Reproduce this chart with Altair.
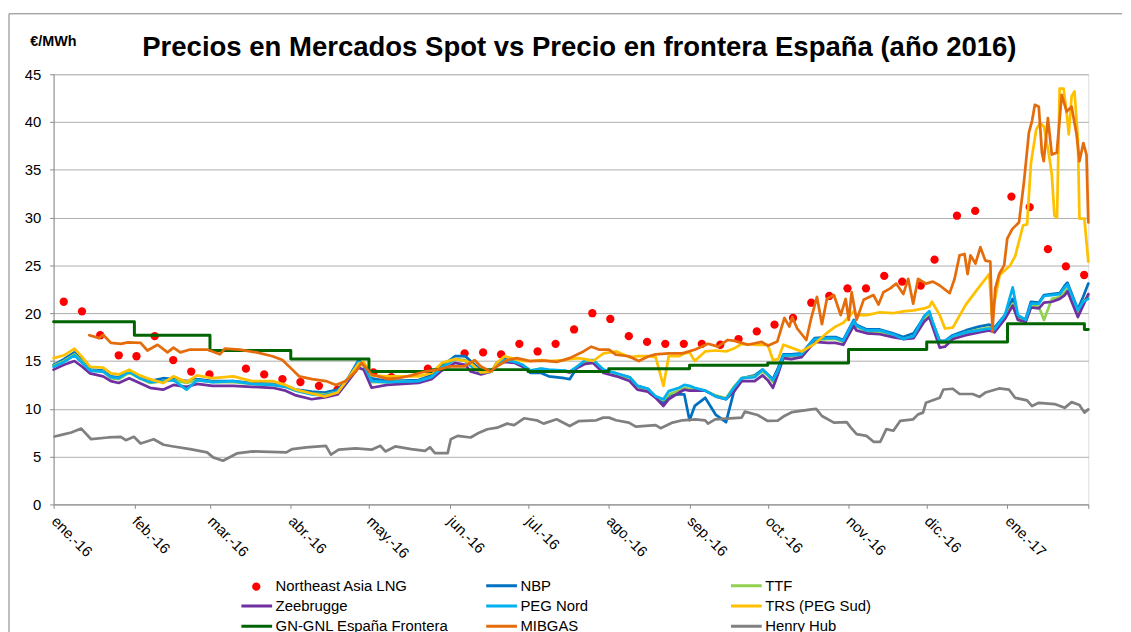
import json
import altair as alt
import pandas as pd

TITLE = "Precios en Mercados Spot vs Precio en frontera España (año 2016)"
UNIT = "€/MWh"
SERIES = ["Northeast Asia LNG", "NBP", "TTF", "Zeebrugge", "PEG Nord", "TRS (PEG Sud)",
          "GN-GNL España Frontera", "MIBGAS", "Henry Hub"]
COLORS = ["#FF0000", "#0070C0", "#92D050", "#7030A0", "#00B0F0", "#FFC000",
          "#006400", "#E46C0A", "#808080"]
TICK_LABELS = ["ene.-16", "feb.-16", "mar.-16", "abr.-16", "may.-16", "jun.-16", "jul.-16",
               "ago.-16", "sep.-16", "oct.-16", "nov.-16", "dic.-16", "ene.-17", ""]

# days since 2016-01-01
CL_DAYS = [0, 4, 8, 11, 14, 19, 22, 25, 29, 33, 37, 42, 46, 51, 55, 61, 69, 76, 84, 89,
           93, 99, 104, 109, 113, 117, 119, 122, 128, 140, 145, 149, 154, 158, 160, 164, 168, 170, 173, 177,
           180, 183, 187, 190, 196, 198, 201, 204, 207, 211, 216, 221, 224, 228, 231, 234, 236, 240, 242, 244,
           246, 250, 254, 258, 261, 264, 269, 272, 274, 276, 278, 280, 283, 287, 292, 297, 300, 303, 307, 308,
           312, 317, 322, 326, 330, 334, 336, 337, 340, 342, 345, 350, 355, 359, 361, 365, 368, 370, 373, 375,
           378, 380, 383, 386, 388, 389, 393, 395, 397]
NBP = [14.6, 15.2, 15.9, 15.0, 14.1, 14.0, 13.4, 13.3, 14.0, 13.3, 12.9, 13.2, 13.1, 12.9, 13.1, 12.9, 12.9, 12.7, 12.6, 12.4,
       12.0, 11.8, 11.7, 12.0, 13.2, 15.1, 14.6, 13.2, 12.9, 13.0, 13.5, 14.5, 15.5, 15.5, 15.0, 14.0, 13.9, 14.8, 15.2, 14.9,
       14.5, 13.75, 13.75, 13.4, 13.2, 13.1, 14.4, 14.8, 15.0, 14.0, 13.7, 13.3, 12.4, 12.1, 11.2, 10.6, 11.4, 11.5, 11.5, 8.8,
       10.3, 11.15, 9.4, 8.6, 11.8, 13.2, 13.5, 14.1, 13.6, 13.1, 14.3, 15.7, 15.7, 15.8, 17.4, 17.5, 17.5, 17.2, 19.3, 18.8,
       18.3, 18.3, 17.9, 17.5, 17.9, 19.6, 20.1, 19.2, 17.1, 17.1, 17.7, 18.2, 18.6, 18.8, 18.5, 19.8, 21.5, 19.6, 19.4, 21.2,
       21.1, 21.9, 22.0, 22.1, 22.9, 23.2, 20.4, 21.7, 23.1]
TTF = [14.5, 15.0, 15.7, 14.9, 14.0, 13.9, 13.2, 13.1, 13.8, 13.2, 12.7, 12.9, 13.0, 12.7, 13.0, 12.8, 12.8, 12.6, 12.5, 12.3,
       11.9, 11.6, 11.5, 11.8, 13.1, 14.8, 14.5, 12.8, 12.8, 12.9, 13.3, 14.3, 15.2, 15.1, 14.6, 13.8, 13.9, 14.7, 15.0, 14.9,
       14.5, 14.0, 14.2, 14.0, 14.0, 13.8, 14.4, 14.9, 15.0, 14.0, 13.6, 13.2, 12.3, 12.0, 11.3, 10.9, 11.5, 11.9, 12.2, 12.1,
       12.0, 11.9, 11.4, 11.1, 12.3, 13.2, 13.4, 13.9, 13.5, 12.8, 14.0, 15.4, 15.5, 15.6, 17.2, 17.3, 17.3, 17.0, 19.1, 18.6,
       18.1, 18.0, 17.7, 17.3, 17.6, 19.4, 19.9, 19.0, 16.9, 16.9, 17.5, 18.0, 18.3, 18.5, 18.3, 19.5, 21.0, 19.4, 19.2, 20.8,
       20.7, 19.3, 21.5, 21.7, 22.2, 22.6, 20.0, 21.2, 21.8]
ZEEBRUGGE = [14.1, 14.6, 15.0, 14.4, 13.7, 13.4, 12.9, 12.7, 13.2, 12.7, 12.2, 12.0, 12.5, 12.3, 12.6, 12.4, 12.4, 12.3, 12.2, 11.9,
             11.4, 11.0, 11.2, 11.5, 12.9, 14.3, 14.1, 12.2, 12.5, 12.7, 13.1, 14.0, 14.8, 14.6, 13.9, 13.6, 13.9, 14.6, 14.9, 14.8,
             14.4, 13.9, 14.1, 13.9, 13.9, 13.8, 14.3, 14.7, 14.8, 13.75, 13.4, 12.9, 12.0, 11.8, 11.15, 10.3, 11.0, 11.7, 12.0, 11.9,
             11.9, 11.9, 11.3, 11.0, 11.8, 12.9, 12.9, 13.5, 13.0, 12.2, 13.7, 15.3, 15.2, 15.4, 17.0, 16.9, 16.9, 16.7, 18.7, 18.2,
             17.9, 17.8, 17.5, 17.3, 17.4, 19.1, 19.6, 18.8, 16.4, 16.5, 17.3, 17.7, 18.0, 18.2, 18.0, 19.4, 20.8, 19.3, 19.1, 20.6,
             20.5, 21.1, 21.2, 21.5, 21.9, 22.3, 19.6, 20.8, 22.0]
PEG_NORD = [14.4, 14.9, 15.6, 14.8, 14.0, 13.9, 13.3, 13.2, 13.9, 13.2, 12.8, 12.9, 13.0, 12.0, 13.0, 12.8, 12.9, 12.6, 12.5, 12.3,
            11.9, 11.5, 11.4, 11.8, 13.1, 14.9, 14.6, 12.9, 12.8, 12.9, 13.3, 14.3, 15.2, 15.0, 14.5, 13.8, 13.9, 14.7, 15.1, 14.9,
            14.6, 14.0, 14.2, 14.1, 14.0, 13.9, 14.45, 15.1, 15.1, 14.1, 13.7, 13.3, 12.4, 12.1, 11.3, 11.0, 11.85, 12.2, 12.5, 12.4,
            12.2, 11.9, 11.3, 11.0, 12.2, 13.2, 13.3, 14.1, 13.6, 13.0, 14.0, 15.6, 15.6, 15.7, 17.3, 17.4, 17.4, 17.1, 19.2, 18.7,
            18.2, 18.2, 17.8, 17.3, 17.6, 19.7, 20.2, 19.3, 17.0, 17.1, 17.6, 18.0, 18.2, 18.4, 18.3, 19.8, 22.7, 19.8, 19.3, 21.0,
            21.0, 21.8, 21.9, 22.0, 22.7, 23.0, 20.3, 21.2, 21.5]

TRS_DAYS = [0, 4, 8, 11, 14, 19, 22, 25, 29, 33, 37, 42, 46, 51, 55, 61, 69, 76, 84, 89,
            93, 99, 104, 109, 113, 117, 119, 122, 128, 140, 145, 149, 154, 158, 160, 164, 168, 170, 173, 177,
            180, 183, 187, 190, 196, 198, 201, 204, 207, 211, 216, 221, 224, 228, 231, 234, 236, 240, 242, 244,
            246, 250, 254, 258, 261, 264, 269, 272, 274, 276, 278, 280, 283, 287, 292, 297, 300, 303, 307, 308,
            312, 317, 322, 326, 330, 334, 336, 337, 340, 342, 345, 350, 355, 359, 360, 363, 367, 369, 370, 372,
            373.5, 375, 377, 378.5, 380, 382, 383, 384, 385, 386, 387.5, 388.7, 389.5, 390.6, 391.7, 393, 393.6, 395.5, 397]
TRS = [15.3, 15.6, 16.3, 15.4, 14.4, 14.3, 13.7, 13.6, 14.1, 13.5, 13.1, 12.7, 13.4, 12.8, 13.5, 13.2, 13.4, 12.9, 12.9, 12.5,
       12.0, 11.6, 11.3, 11.7, 13.2, 14.7, 14.9, 13.5, 13.4, 13.4, 13.75, 14.8, 15.2, 15.0, 14.8, 13.8, 13.9, 14.8, 15.5, 15.2,
       15.0, 15.0, 15.1, 15.0, 15.1, 15.2, 15.3, 15.2, 15.0, 15.8, 16.0, 15.4, 15.5, 15.5, 15.4, 12.4, 15.5, 15.5, 15.8, 15.9,
       15.0, 16.0, 16.1, 16.0, 16.3, 16.8, 16.7, 16.7, 16.7, 15.1, 15.2, 16.7, 16.4, 16.0, 16.8, 18.0, 18.6, 19.0, 20.2, 19.8,
       19.8, 20.1, 20.0, 20.2, 20.3, 20.5, 20.7, 21.2, 19.8, 18.4, 18.5, 20.9, 22.7, 24.1, 19.8, 24.0, 25.0, 26.0, 27.1, 29.2,
       29.3, 35.7, 39.2, 39.9, 39.5, 36.4, 34.5, 30.2, 30.0, 43.5, 43.5, 40.9, 38.7, 42.7, 43.2, 38.2, 29.9, 29.9, 25.4]

GN_DAYS = [0, 31, 60, 91, 121, 145, 182, 213, 244, 274, 305, 335, 366, 395.5, 397]
GN_GNL = [19.1, 17.7, 16.1, 15.2, 13.9, 14.1, 13.9, 14.2, 14.55, 14.8, 16.2, 17.0, 18.9, 18.3, 18.3]

MIB_DAYS = [13.7, 17.5, 19, 22, 25.8, 28.5, 33.4, 36, 39.9, 43.7, 46, 48.6, 52.4, 58.9, 63.8, 65.7, 71.4, 77.9, 84, 87.8,
            91.6, 94.2, 99.2, 104.5, 108.3, 112.1, 115.9, 118.2, 122, 128.4, 132.2, 137.2, 142.5, 147.4, 152.4, 157.7, 161.5, 163.8, 167.6, 170.2,
            174, 177.8, 182.8, 188.1, 193, 198, 203.3, 206.3, 209.3, 213.1, 215.7, 220.7, 224.5, 228.3, 231, 236, 241.3, 246.2, 251.1, 254.9,
            258.7, 261.4, 264, 266.3, 271.7, 274, 277.7, 280.4, 282.3, 283.4, 285.3, 288.8, 290.7, 292.9, 294.8, 296.7, 299.4, 302, 303.9, 305.1,
            306.2, 308.1, 310.8, 314.6, 316.5, 318.4, 321, 323.3, 326, 327.9, 329.8, 331.7, 334.7, 337.4, 340, 343.8, 345.7, 347.6, 349.5, 350.7,
            351.8, 353.7, 355.6, 357.5, 359.4, 360.2, 361.3, 362.8, 364.7, 365.9, 367.8, 370.4, 372.3, 374.2, 375.4, 376.5, 378, 379.2, 379.9, 381.5,
            383, 384.9, 386.8, 388.7, 390.6, 392.5, 393.6, 395.1, 396.3, 397]
MIBGAS = [17.7, 17.4, 17.75, 16.9, 16.8, 16.95, 16.9, 16.1, 16.7, 15.9, 16.4, 15.9, 16.2, 16.2, 15.7, 16.3, 16.2, 15.9, 15.5, 15.1,
          14.1, 13.4, 13.1, 12.9, 12.5, 12.9, 13.9, 14.8, 13.6, 13.1, 13.2, 13.5, 13.9, 14.1, 14.45, 14.45, 15.1, 14.45, 13.9, 14.45,
          15.1, 15.3, 15.0, 15.05, 14.9, 15.3, 16.0, 16.5, 16.2, 16.2, 15.66, 15.5, 15.0, 15.5, 15.7, 15.8, 15.8, 16.2, 16.8, 16.5,
          17.2, 17.1, 16.9, 16.7, 17.0, 16.6, 17.05, 19.5, 18.6, 19.6, 18.4, 17.2, 19.5, 21.7, 18.85, 21.5, 21.9, 19.8, 21.5, 19.3,
          22.2, 19.3, 21.4, 21.9, 20.9, 22.2, 22.6, 23.1, 22.0, 23.6, 21.0, 23.6, 23.1, 23.3, 22.9, 22.1, 23.6, 26.05, 26.2, 24.1,
          26.05, 25.2, 26.9, 25.5, 25.4, 18.1, 22.6, 24.1, 25.0, 27.8, 28.8, 29.5, 33.7, 38.9, 40.1, 41.8, 41.6, 36.8, 35.9, 40.4,
          36.6, 36.8, 42.85, 41.1, 41.6, 38.7, 35.9, 37.8, 36.6, 29.5]

HH_DAYS = [0.4, 3, 6.8, 10.6, 14.4, 20.9, 25.8, 27.7, 30.8, 33.4, 38.4, 42.2, 46, 52.4, 58.9, 61.2, 65, 70.3, 76.4, 89.3,
           91.6, 96.9, 104.5, 106.4, 109.4, 115.9, 122, 125.4, 127.3, 131.1, 137.2, 142.5, 144.4, 146.3, 151.2, 152.4, 155, 160, 162.6, 166.4,
           170.2, 174, 176.7, 180.5, 185.4, 188, 193, 198, 201.4, 208.2, 210.9, 213.1, 215.8, 220.7, 223.4, 231, 232.9, 237.5, 241.3, 246.2,
           250, 251.1, 253.8, 264, 265.2, 270.1, 274, 277.7, 280.4, 283.4, 290.7, 292.6, 294.8, 299.4, 304.3, 305.9, 308.1, 311.9, 314.6, 317.2,
           319.5, 322.2, 324.8, 329.8, 331.7, 333.6, 334.7, 340, 341.4, 345, 347.6, 352.6, 355.2, 357.5, 362.8, 366.6, 368.9, 373.5, 375.4, 378,
           384.1, 387.9, 390.6, 393.6, 395.5, 397]
HENRY_HUB = [7.1, 7.27, 7.52, 7.93, 6.82, 7.0, 7.07, 6.72, 7.07, 6.37, 6.82, 6.24, 6.06, 5.79, 5.44, 4.92, 4.57, 5.33, 5.54, 5.44,
             5.79, 5.96, 6.13, 5.2, 5.72, 5.85, 5.72, 6.13, 5.54, 6.06, 5.79, 5.6, 5.98, 5.36, 5.36, 6.82, 7.17, 7.0, 7.41, 7.86,
             8.03, 8.45, 8.3, 9.01, 8.8, 8.45, 8.9, 8.2, 8.7, 8.8, 9.08, 9.08, 8.8, 8.56, 8.14, 8.3, 7.97, 8.56, 8.8, 8.9,
             8.8, 8.45, 8.9, 9.08, 9.7, 9.35, 8.73, 8.75, 9.25, 9.66, 9.94, 10.0, 9.25, 8.56, 8.6, 8.04, 7.35, 7.17, 6.55, 6.55,
             7.87, 7.7, 8.73, 8.9, 9.42, 9.6, 10.63, 11.15, 12.02, 12.1, 11.55, 11.55, 11.25, 11.7, 12.13, 12.0, 11.15, 10.88, 10.29, 10.63,
             10.5, 10.1, 10.7, 10.4, 9.6, 9.94]

LNG_DAYS = [3.9, 10.9, 17.9, 25, 31.8, 38.8, 45.9, 52.8, 59.8, 73.8, 80.8, 87.8, 94.7, 101.8, 108.9, 122.7, 129.6, 143.6, 157.7, 164.8,
            171.7, 178.7, 185.7, 192.6, 199.7, 206.7, 213.6, 220.7, 227.7, 234.7, 241.8, 248.7, 255.8, 262.8, 269.8, 276.6, 283.7, 290.7, 297.6, 304.6,
            311.7, 318.7, 325.6, 332.7, 338, 346.6, 353.6, 367.5, 374.5, 381.5, 388.4, 395.4]
LNG = [21.2, 20.2, 17.7, 15.6, 15.5, 17.6, 15.1, 13.9, 13.6, 14.2, 13.6, 13.1, 12.8, 12.4, 12.0, 13.8, 13.3, 14.2, 15.8, 15.9,
       15.7, 16.8, 16.0, 16.8, 18.3, 20.0, 19.4, 17.6, 17.0, 16.8, 16.8, 16.8, 16.7, 17.3, 18.1, 18.8, 19.5, 21.1, 21.8, 22.6,
       22.6, 23.9, 23.3, 22.9, 25.6, 30.2, 30.7, 32.2, 31.1, 26.7, 24.9, 24.0]

START = pd.Timestamp("2016-01-01")


def frame(name, days, vals):
    return pd.DataFrame({
        "series": name,
        "date": [START + pd.Timedelta(days=float(d)) for d in days],
        "value": vals,
    })


FONT = "Liberation Sans"

lines_spec = [
    ("NBP", CL_DAYS, NBP, 2.75, "linear"),
    ("TTF", CL_DAYS, TTF, 2.75, "linear"),
    ("Zeebrugge", CL_DAYS, ZEEBRUGGE, 2.75, "linear"),
    ("PEG Nord", CL_DAYS, PEG_NORD, 2.75, "linear"),
    ("TRS (PEG Sud)", TRS_DAYS, TRS, 2.75, "linear"),
    ("GN-GNL España Frontera", GN_DAYS, GN_GNL, 3, "step-after"),
    ("MIBGAS", MIB_DAYS, MIBGAS, 2.75, "linear"),
    ("Henry Hub", HH_DAYS, HENRY_HUB, 2.75, "linear"),
]

# legend fills column by column: reorder so rows read like the reference
LEGEND_ORDER = [SERIES[i] for i in (0, 3, 6, 1, 4, 7, 2, 5, 8)]
LEGEND_COLORS = ["transparent" if s == SERIES[0] else COLORS[SERIES.index(s)] for s in LEGEND_ORDER]

label_expr = json.dumps(TICK_LABELS) + "[(year(datum.value)-2016)*12+month(datum.value)]"

x_enc = alt.X(
    "date:T",
    scale=alt.Scale(domain=[alt.DateTime(year=2016, month=1, date=1),
                            alt.DateTime(year=2017, month=2, date=1)]),
    axis=alt.Axis(
        values=[alt.DateTime(year=2016 + m // 12, month=m % 12 + 1, date=1) for m in range(14)],
        labelExpr=label_expr, labelAngle=45, labelAlign="left", labelBaseline="top",
        labelFontSize=15, labelFont=FONT, labelColor="black", labelPadding=5, labelOffset=5,
        labelFlush=False, labelOverlap=False, labelBound=False,
        tickSize=4, tickColor="#8C8C8C", domainColor="#8C8C8C", grid=False, title=None,
    ),
)
y_enc = alt.Y(
    "value:Q",
    scale=alt.Scale(domain=[0, 45], nice=False),
    axis=alt.Axis(
        values=list(range(0, 46, 5)), grid=True, gridColor="#ADADAD", gridWidth=1,
        domainColor="#8C8C8C", tickColor="#8C8C8C", tickSize=4,
        labelFontSize=15, labelFont=FONT, labelColor="black", labelPadding=9,
        title=UNIT, titleAngle=0, titleX=-24, titleY=-29, titleAlign="left",
        titleBaseline="alphabetic", titleFontSize=14.5, titleFontWeight="bold",
        titleFont=FONT, titleColor="black",
    ),
)

stroke_scale = alt.Scale(domain=LEGEND_ORDER, range=LEGEND_COLORS)
legend_lines = alt.Legend(
    title=None, orient="none", legendX=188, legendY=507, columns=3, gridAlign="all",
    columnPadding=36, rowPadding=2.5, clipHeight=18, symbolType="stroke", symbolSize=961,
    symbolStrokeWidth=3, labelFontSize=15, labelFont=FONT, labelColor="black",
    labelOffset=2, labelLimit=400, padding=0,
)
legend_dot = alt.Legend(
    title=None, orient="none", legendX=199.5, legendY=512, labelExpr="''",
    symbolType="circle", symbolSize=70, symbolStrokeWidth=0, padding=0,
)

layers = []
border = pd.DataFrame({"k": [0]})
layers.append(alt.Chart(border).mark_rule(color="#7F7F7F", strokeWidth=1).encode(
    x=alt.value(-45), x2=alt.value(1078), y=alt.value(-61)))
layers.append(alt.Chart(border).mark_rule(color="#7F7F7F", strokeWidth=1).encode(
    x=alt.value(-45), y=alt.value(-61), y2=alt.value(570)))
layers.append(alt.Chart(pd.DataFrame({"t": [TITLE]})).mark_text(
    font=FONT, fontSize=27.75, fontWeight="bold", color="black", align="center",
    baseline="alphabetic").encode(text="t:N", x=alt.value(530.5), y=alt.value(-18)))

layers.append(alt.Chart(frame(SERIES[0], LNG_DAYS, LNG)).mark_circle(size=70, opacity=1).encode(
    x=x_enc, y=y_enc,
    color=alt.Color("series:N", scale=alt.Scale(domain=[SERIES[0]], range=[COLORS[0]]), legend=legend_dot),
))

for name, days, vals, sw, interp in lines_spec:
    layers.append(alt.Chart(frame(name, days, vals)).mark_line(
        strokeWidth=sw, interpolate=interp, strokeJoin="round", strokeCap="round").encode(
        x=x_enc, y=y_enc,
        stroke=alt.Stroke("series:N", scale=stroke_scale, legend=legend_lines),
    ))

chart = alt.layer(*layers).properties(
    width=1044, height=434,
    padding={"left": 0, "top": 2, "right": 0, "bottom": 0},
).configure_view(strokeWidth=0).configure(font=FONT)

chart.save("out.html", embed_options={"renderer": "svg", "actions": False})
